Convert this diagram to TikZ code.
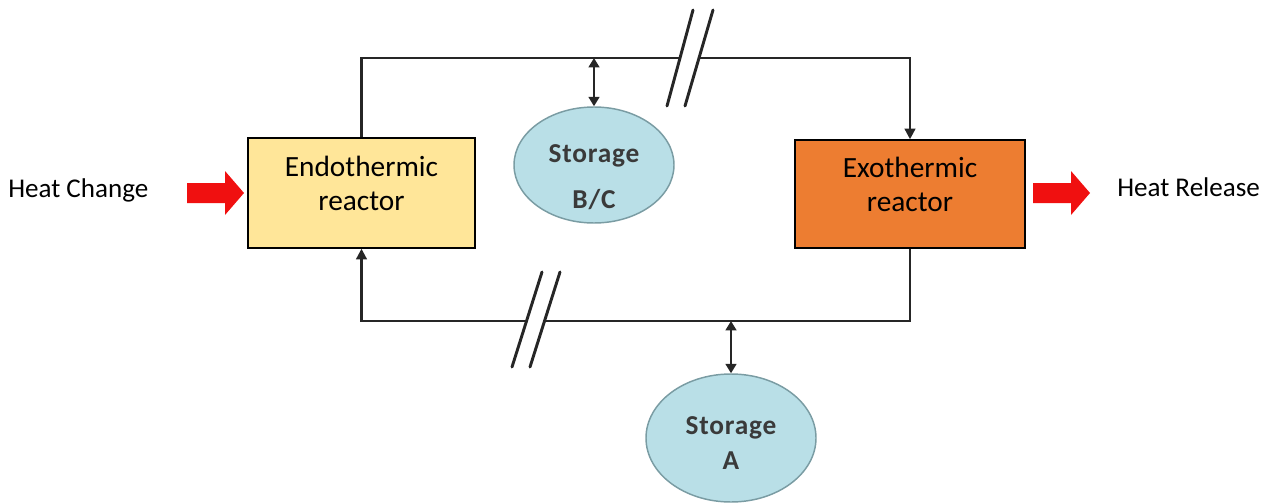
\documentclass[tikz,border=0pt]{standalone}
\usepackage{fontspec}
\setmainfont{Carlito}
\usetikzlibrary{arrows.meta,shapes.geometric}
\definecolor{endo}{HTML}{FFE699}
\definecolor{exo}{HTML}{ED7D31}
\definecolor{stor}{HTML}{B9DFE7}
\definecolor{storline}{HTML}{7A9CA3}
\definecolor{stortext}{HTML}{3A3A3A}
\definecolor{heat}{HTML}{F01010}
\begin{document}
\begin{tikzpicture}[x=0.75pt,y=-0.75pt,
  reactor/.style={draw=black,line width=1.1pt,inner sep=0pt},
  rtext/.style={align=center,font=\fontsize{22}{25.5}\selectfont,inner sep=0pt},
  storage/.style={ellipse,draw=storline,line width=1.1pt,fill=stor,inner sep=0pt},
  stext/.style={align=center,text=stortext,font=\fontsize{20.5}{24}\selectfont\bfseries,inner sep=0pt},
  flow/.style={line width=1.7pt,draw=black!85},
  tip/.style={-{Triangle[length=8pt,width=8pt]}},
  dbl/.style={{Triangle[length=7pt,width=8pt]}-{Triangle[length=7pt,width=8pt]}},
  slash/.style={line width=2.2pt,draw=black!85,line cap=round},
  lbl/.style={font=\fontsize{20.3}{24}\selectfont,inner sep=0pt}]
\useasboundingbox (0,0) rectangle (1271,503);
\node[reactor,fill=endo,minimum width=170.25pt,minimum height=82.5pt] (endo) at (361.5,193) {};
\node[rtext] (endot) at (361.5,183) {Endothermic\\reactor};
\node[reactor,fill=exo,minimum width=172.5pt,minimum height=81pt] (exo) at (910,194) {};
\node[rtext] (exot) at (910,184) {Exothermic\\reactor};
\node[storage,minimum width=120pt,minimum height=87pt] (bc) at (594,165) {};
\node[stext] (bct) at (594,177) {\addfontfeature{LetterSpace=3}Storage\\[10pt]\addfontfeature{LetterSpace=3}B/C};
\node[storage,minimum width=127.5pt,minimum height=96pt] (sa) at (731,438) {};
\node[stext] (sat) at (731,443) {\addfontfeature{LetterSpace=3}Storage\\[2pt]A};
\coordinate (tl) at (361.5,58);
\coordinate (tr) at (910,58);
\coordinate (bl) at (361.5,321);
\coordinate (br) at (910,321);
\draw[flow,tip] (endo.north) -- (tl) -- (tr) -- (exo.north);
\draw[flow,tip] (exo.south) -- (br) -- (bl) -- (endo.south);
\draw[flow,dbl] (bc.north |- tl) -- (bc.north);
\draw[flow,dbl] (sa.north |- bl) -- (sa.north);
% break marks
\fill[white] (681,52) -- (700,52) -- (698,64) -- (679,64) -- cycle;
\draw[slash] (667,106) -- (693,10);
\draw[slash] (685,106) -- (713,10);
\fill[white] (528,315) -- (546,315) -- (543,327) -- (525,327) -- cycle;
\draw[slash] (512,367) -- (542,272);
\draw[slash] (530,367) -- (560,272);
% heat arrows
\fill[heat] (187,183) -- (225,183) -- (225,171) -- (244,193) -- (225,215) -- (225,203) -- (187,203) -- cycle;
\fill[heat] (1033,183) -- (1071,183) -- (1071,171) -- (1090,193) -- (1071,215) -- (1071,203) -- (1033,203) -- cycle;
\node[lbl,anchor=west] (hc) at (8,190) {Heat Change};
\node[lbl,anchor=west] (hr) at (1117,187) {Heat Release};
\end{tikzpicture}
\end{document}
